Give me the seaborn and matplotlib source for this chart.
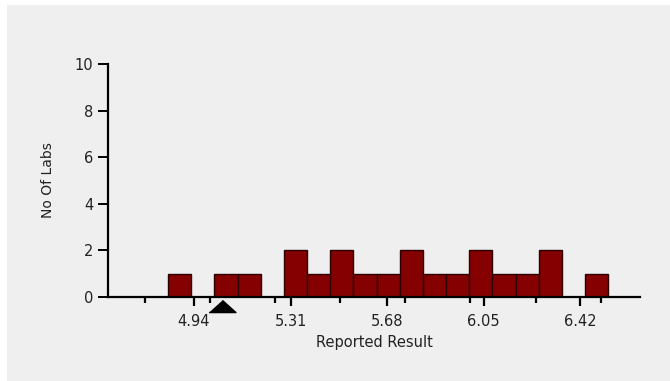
import matplotlib
matplotlib.use("Agg")
import matplotlib.pyplot as plt
import seaborn as sns
import numpy as np
from matplotlib.patches import Rectangle

# ---- data ----
bin_centers = [4.885, 4.974, 5.063, 5.152, 5.240, 5.329, 5.418, 5.507, 5.596, 5.684,
               5.773, 5.862, 5.951, 6.040, 6.129, 6.217, 6.306, 6.395, 6.484]
lab_counts = [1, 0, 1, 1, 0, 2, 1, 2, 1, 1, 2, 1, 1, 2, 1, 1, 2, 0, 1]
bin_width = 0.0888
major_ticks = [4.94, 5.31, 5.68, 6.05, 6.42]
major_labels = ["4.94", "5.31", "5.68", "6.05", "6.42"]
minor_ticks = [4.75, 5.0, 5.25, 5.5, 5.75, 6.0, 6.25, 6.5]
y_ticks = [0, 2, 4, 6, 8, 10]
assigned_value = 5.046

sns.set_theme(style="white")
plt.rcParams['font.family'] = ['DejaVu Sans']

W, H = 670, 381
fig = plt.figure(figsize=(W / 100, H / 100), dpi=100, facecolor="white")
bg = Rectangle((7 / W, 0), 1 - 7 / W, 1 - 5 / H, transform=fig.transFigure,
               facecolor="#efefef", edgecolor="none", zorder=-10)
fig.patches.append(bg)
ax = fig.add_axes([108 / W, 1 - 297 / H, (640 - 108) / W, (297 - 64) / H])
ax.set_facecolor("none")
ax.set_zorder(1)

edges_lo = bin_centers[0] - bin_width / 2
sns.histplot(x=bin_centers, weights=lab_counts, binwidth=bin_width,
             binrange=(edges_lo, edges_lo + bin_width * len(bin_centers)),
             color="#850000", edgecolor="#2a0000", linewidth=1.0, alpha=1.0, ax=ax)

ax.set_xlim(4.610, 6.650)
ax.set_ylim(0, 10)

for side in ["top", "right"]:
    ax.spines[side].set_visible(False)
for side in ["left", "bottom"]:
    ax.spines[side].set_visible(True)
    ax.spines[side].set_color("black")
    ax.spines[side].set_linewidth(1.6)

ax.set_yticks(y_ticks)
ax.set_yticklabels([str(v) for v in y_ticks])
ax.set_xticks(major_ticks)
ax.set_xticklabels(major_labels)
ax.set_xticks(minor_ticks, minor=True)
ax.tick_params(axis="y", which="major", direction="out", length=7, width=1.4,
               color="black", labelsize=10.5, pad=3.5, left=True, labelcolor="#222222")
ax.tick_params(axis="x", which="major", direction="out", length=6.5, width=1.6,
               color="black", labelsize=10.5, pad=6, bottom=True, labelcolor="#222222")
ax.tick_params(axis="x", which="minor", direction="out", length=4, width=1.6,
               color="black", bottom=True)

ax.set_xlabel("Reported Result", fontsize=10.5, color="#222222", labelpad=4)
ax.set_ylabel("No Of Labs", fontsize=10, color="#222222", labelpad=14)

# assigned-value marker below the axis
tri = [(-1, -0.45), (1, -0.45), (0, 0.45)]
ax.plot([assigned_value], [-0.38], marker=tri, markersize=19.4, color="black",
        linestyle="none", clip_on=False, zorder=5)

fig.savefig("out.png", dpi=100, facecolor=fig.get_facecolor())
